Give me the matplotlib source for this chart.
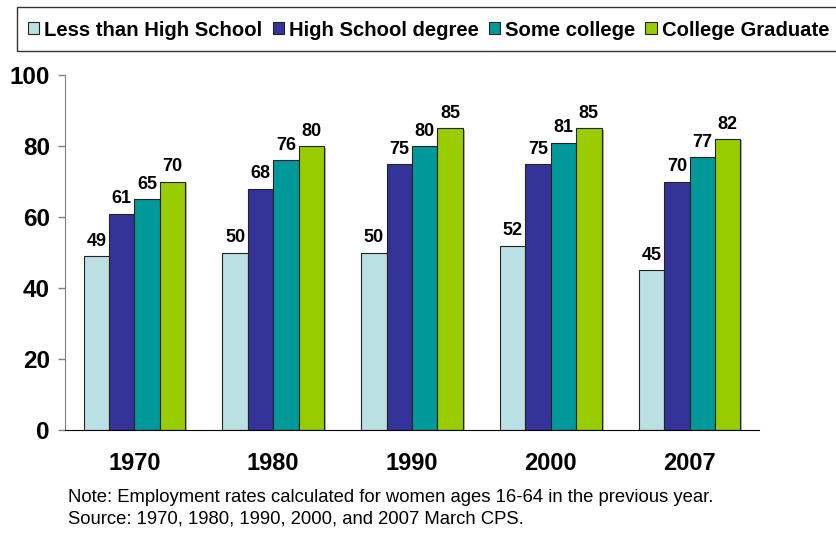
import numpy as np
import matplotlib.pyplot as plt
from matplotlib.patches import Rectangle
import matplotlib.patheffects as pe

plt.rcParams['font.family'] = ['Liberation Sans', 'DejaVu Sans']

# Data
years = ['1970', '1980', '1990', '2000', '2007']
less_hs = [49, 50, 50, 52, 45]
hs_degree = [61, 68, 75, 75, 70]
some_college = [65, 76, 80, 81, 77]
college_grad = [70, 80, 85, 85, 82]

series = [less_hs, hs_degree, some_college, college_grad]
names = ['Less than High School', 'High School degree', 'Some college', 'College Graduate']
colors = ['#BBE0E3', '#333399', '#009999', '#99CC00']

fig = plt.figure(figsize=(8.36, 5.33), dpi=100)
ax = fig.add_axes([0.0778, 0.193, 0.830, 0.666])

x = np.arange(len(years))
w = 0.183
shadow = [pe.SimplePatchShadow(offset=(1.5, -1), shadow_rgbFace='#808080', alpha=0.6), pe.Normal()]
handles = []
for i, (vals, name, c) in enumerate(zip(series, names, colors)):
    bars = ax.bar(x + (i - 1.5) * w, vals, w, color=c, edgecolor='#222222',
                  linewidth=0.8, label=name, path_effects=shadow, zorder=2)
    handles.append(bars)
    for b, v in zip(bars, vals):
        ax.annotate(str(v), (b.get_x() + b.get_width() / 2, v), xytext=(0, 4.5),
                    textcoords='offset points', ha='center', va='bottom',
                    fontsize=13, fontweight='bold')

ax.set_xlim(-0.5, 4.5)
ax.set_ylim(0, 100)
ax.set_yticks([0, 20, 40, 60, 80, 100])
ax.set_xticks(x)
ax.set_xticklabels(years, fontsize=17, fontweight='bold')
for lab in ax.get_yticklabels():
    lab.set_fontsize(17.5)
    lab.set_fontweight('bold')
ax.tick_params(axis='x', length=0, pad=16)
ax.tick_params(axis='y', length=5, width=1, color='#808080', pad=6)
ax.spines['top'].set_visible(False)
ax.spines['right'].set_visible(False)
ax.spines['left'].set_color('#808080')
ax.spines['bottom'].set_color('black')

# legend box
fig.patches.append(Rectangle((17 / 836, 1 - 51 / 533), 1.0, 44 / 533, transform=fig.transFigure,
                             facecolor='white', edgecolor='#333333', linewidth=1))
leg = fig.legend(handles=handles, labels=names, loc='center left',
                 bbox_to_anchor=(20 / 836, 1 - 30 / 533), ncol=4, frameon=False,
                 prop={'weight': 'bold', 'size': 14.6}, handlelength=0.55, handleheight=0.55,
                 handletextpad=0.25, columnspacing=0.5, borderaxespad=0)
for h in leg.legend_handles:
    h.set_path_effects([])

fig.text(68 / 836, 1 - 497 / 533, 'Note: Employment rates calculated for women ages 16-64 in the previous year.',
         fontsize=13.3, va='center', ha='left')
fig.text(68 / 836, 1 - 519 / 533, 'Source: 1970, 1980, 1990, 2000, and 2007 March CPS.',
         fontsize=13.3, va='center', ha='left')

fig.savefig('out.png', dpi=100)
